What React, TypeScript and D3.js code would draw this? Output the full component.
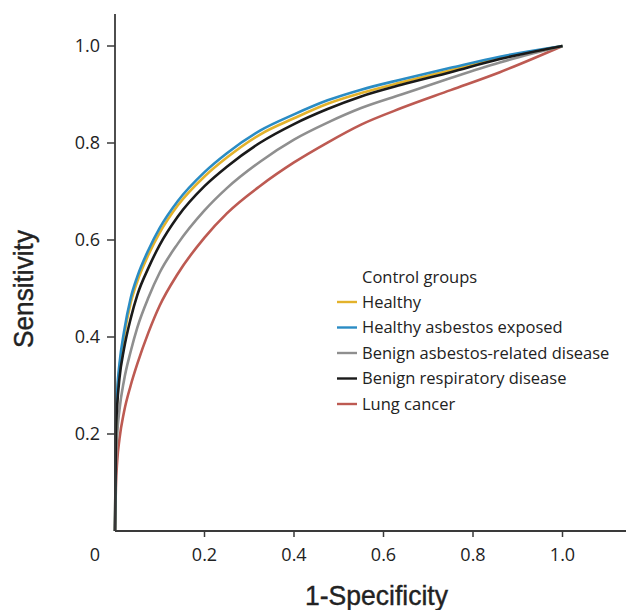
import React from 'react';
import * as d3 from 'd3';

const W = 626;
const H = 610;

const fpr = [0, 0.002, 0.005, 0.01, 0.02, 0.035, 0.05, 0.075, 0.1, 0.14, 0.2, 0.25, 0.325, 0.4, 0.475, 0.55, 0.64, 0.75, 0.86, 1];

const lungCancer = [0, 0.09, 0.145, 0.19, 0.245, 0.3, 0.345, 0.41, 0.465, 0.53, 0.605, 0.655, 0.712, 0.76, 0.801, 0.838, 0.872, 0.909, 0.946, 1];
const benignAsbestos = [0, 0.13, 0.2, 0.25, 0.31, 0.37, 0.42, 0.482, 0.533, 0.592, 0.661, 0.707, 0.762, 0.807, 0.842, 0.872, 0.9, 0.934, 0.966, 1];
const benignRespiratory = [0, 0.2, 0.26, 0.315, 0.375, 0.438, 0.487, 0.543, 0.59, 0.648, 0.711, 0.751, 0.801, 0.839, 0.87, 0.896, 0.92, 0.946, 0.973, 1];
const healthy = [0, 0.21, 0.28, 0.335, 0.4, 0.47, 0.515, 0.57, 0.615, 0.671, 0.731, 0.77, 0.818, 0.851, 0.881, 0.903, 0.925, 0.95, 0.975, 1];
const healthyExposed = [0, 0.22, 0.29, 0.345, 0.41, 0.48, 0.525, 0.58, 0.625, 0.68, 0.74, 0.779, 0.826, 0.859, 0.888, 0.91, 0.931, 0.955, 0.978, 1];

const legendNames = ['Healthy', 'Healthy asbestos exposed', 'Benign asbestos-related disease', 'Benign respiratory disease', 'Lung cancer'];
const legendColors = ['#e3b22b', '#2a8cc4', '#8f8f8f', '#1a1a1a', '#bd5a52'];

// draw order (bottom first)
const series = [
  { name: 'Lung cancer', values: lungCancer, color: '#bd5a52' },
  { name: 'Benign asbestos-related disease', values: benignAsbestos, color: '#8f8f8f' },
  { name: 'Healthy', values: healthy, color: '#e3b22b' },
  { name: 'Healthy asbestos exposed', values: healthyExposed, color: '#2a8cc4' },
  { name: 'Benign respiratory disease', values: benignRespiratory, color: '#1a1a1a' },
];

const ticks = [0.2, 0.4, 0.6, 0.8, 1.0];

export default function App() {
  const x = d3.scaleLinear().domain([0, 1]).range([115, 562.5]);
  const y = d3.scaleLinear().domain([0, 1]).range([531, 46]);

  const line = d3
    .line<number>()
    .x((_, i) => x(fpr[i]))
    .y((d) => y(d))
    .curve(d3.curveMonotoneX);

  const axisColor = '#3a3a3a';
  const tickFont = "'Open Sans', Arial, sans-serif";
  const titleFont = "'Liberation Sans', Arial, sans-serif";

  return (
    <svg
      width={W}
      height={H}
      style={{ position: 'absolute', left: 0, top: 0, background: '#fff' }}
    >
      {/* curves */}
      {series.map((s) => (
        <path
          key={s.name}
          d={line(s.values) || ''}
          fill="none"
          stroke={s.color}
          strokeWidth={2.6}
          strokeLinejoin="round"
        />
      ))}

      {/* axes */}
      <line x1={115} x2={115} y1={14} y2={531} stroke={axisColor} strokeWidth={1.8} />
      <line x1={115} x2={W} y1={531} y2={531} stroke={axisColor} strokeWidth={1.8} />

      {ticks.map((t) => (
        <g key={'y' + t}>
          <line x1={107} x2={115} y1={y(t)} y2={y(t)} stroke={axisColor} strokeWidth={1.5} />
          <text
            x={100}
            y={y(t)}
            dy="0.35em"
            textAnchor="end"
            fontFamily={tickFont}
            fontSize={18}
            fill="#222"
          >
            {t.toFixed(1)}
          </text>
        </g>
      ))}

      {ticks.map((t) => (
        <g key={'x' + t}>
          <line x1={x(t)} x2={x(t)} y1={531} y2={537} stroke={axisColor} strokeWidth={1.5} />
          <text
            x={x(t)}
            y={561}
            textAnchor="middle"
            fontFamily={tickFont}
            fontSize={18}
            fill="#222"
          >
            {t.toFixed(1)}
          </text>
        </g>
      ))}
      <text x={95} y={561} textAnchor="middle" fontFamily={tickFont} fontSize={18} fill="#222">
        0
      </text>

      {/* axis titles */}
      <text
        x={305}
        y={605}
        fontFamily={titleFont}
        fontSize={28}
        textLength={143}
        lengthAdjust="spacingAndGlyphs"
        fill="#222"
        stroke="#222"
        strokeWidth={0.4}
      >
        1-Specificity
      </text>
      <text
        transform="translate(33,348) rotate(-90)"
        fontFamily={titleFont}
        fontSize={28}
        textLength={118}
        lengthAdjust="spacingAndGlyphs"
        fill="#222"
        stroke="#222"
        strokeWidth={0.4}
      >
        Sensitivity
      </text>

      {/* legend */}
      <text x={362} y={277} dy="0.35em" fontFamily={tickFont} fontSize={16.5} fill="#222">
        Control groups
      </text>
      {legendNames.map((n, i) => {
        const ly = 302 + i * 25.5;
        return (
          <g key={n}>
            <line x1={337} x2={357} y1={ly} y2={ly} stroke={legendColors[i]} strokeWidth={2.4} />
            <text x={362} y={ly} dy="0.35em" fontFamily={tickFont} fontSize={16.5} fill="#222">
              {n}
            </text>
          </g>
        );
      })}
    </svg>
  );
}
